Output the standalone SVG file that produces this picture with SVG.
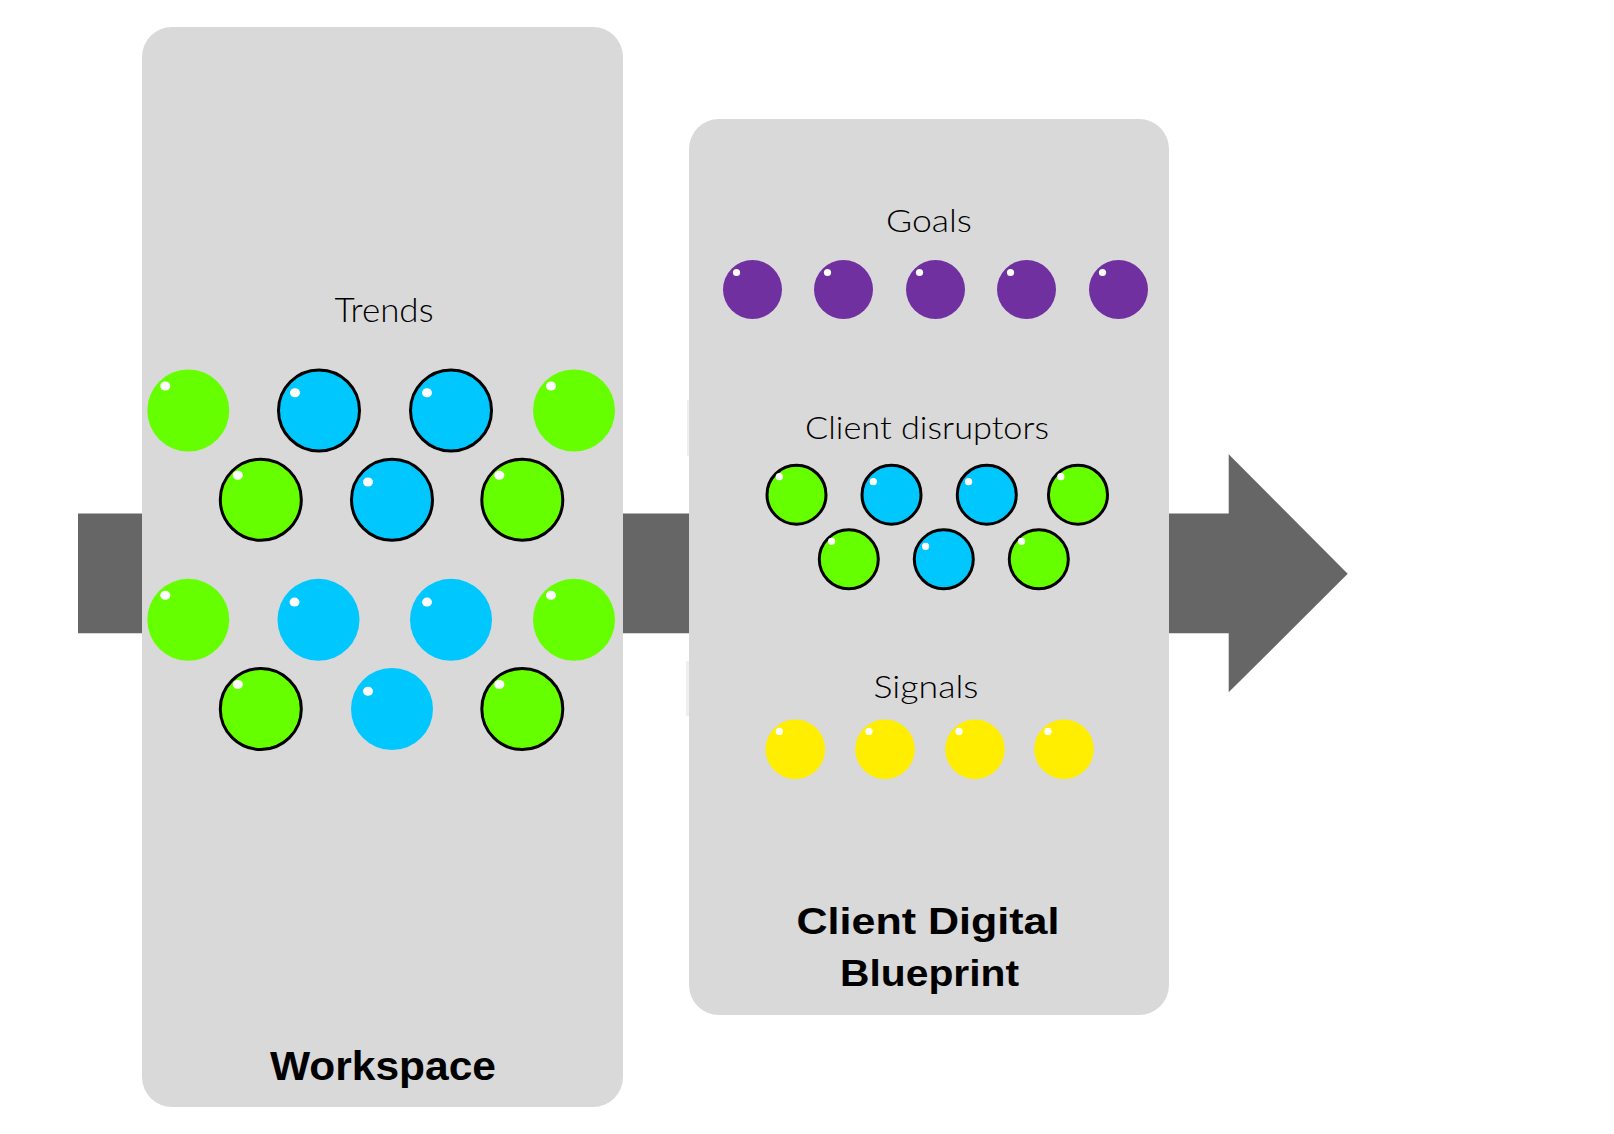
<svg xmlns="http://www.w3.org/2000/svg" width="1614" height="1134" viewBox="0 0 1614 1134">
<style>
.box{fill:#D9D9D9}
.arrow{fill:#666666}
.g{fill:#66FF00}
.b{fill:#00C8FF}
.p{fill:#7030A0}
.y{fill:#FFEE00}
.s{stroke:#000;stroke-width:3}
.h{fill:#FFFFFF}
.lt{font-family:Lato,"Open Sans","Liberation Sans",sans-serif;font-weight:300;fill:#000;text-anchor:middle}
.bt{font-family:"Liberation Sans",Arial,sans-serif;font-weight:bold;fill:#000;text-anchor:middle}
</style>
<rect width="1614" height="1134" fill="#FFFFFF"/>
<g id="connectors">
<polygon class="arrow" points="78,513.5 1228.7,513.5 1228.7,454.3 1347.7,573.7 1228.7,692.3 1228.7,633.3 78,633.3"/>
</g>
<g id="workspace">
<rect class="box" x="142" y="27" width="481" height="1080" rx="30" ry="30"/>
<text class="lt" x="384" y="321.7" font-size="34" textLength="99" lengthAdjust="spacingAndGlyphs">Trends</text>
<text class="bt" x="383" y="1080" font-size="41" textLength="226" lengthAdjust="spacingAndGlyphs">Workspace</text>
</g>
<g id="trends">
<circle class="g" cx="188.3" cy="410.5" r="41"/><ellipse class="h" cx="165.3" cy="386" rx="5" ry="4.5"/>
<circle class="b s" cx="319" cy="410.5" r="40.5"/><ellipse class="h" cx="295" cy="392.8" rx="5" ry="4.5"/>
<circle class="b s" cx="451" cy="410.5" r="40.5"/><ellipse class="h" cx="427" cy="392.8" rx="5" ry="4.5"/>
<circle class="g" cx="574" cy="410.5" r="41"/><ellipse class="h" cx="551" cy="386" rx="5" ry="4.5"/>
<circle class="g s" cx="260.8" cy="499.7" r="40.5"/><ellipse class="h" cx="237.8" cy="475.2" rx="5" ry="4.5"/>
<circle class="b s" cx="392" cy="499.7" r="40.5"/><ellipse class="h" cx="368" cy="482" rx="5" ry="4.5"/>
<circle class="g s" cx="522.3" cy="499.7" r="40.5"/><ellipse class="h" cx="499.3" cy="475.2" rx="5" ry="4.5"/>
<circle class="g" cx="188.3" cy="619.8" r="41"/><ellipse class="h" cx="165.3" cy="595.3" rx="5" ry="4.5"/>
<circle class="b" cx="318.5" cy="619.8" r="41"/><ellipse class="h" cx="294.5" cy="602.1" rx="5" ry="4.5"/>
<circle class="b" cx="451" cy="619.8" r="41"/><ellipse class="h" cx="427" cy="602.1" rx="5" ry="4.5"/>
<circle class="g" cx="574" cy="619.8" r="41"/><ellipse class="h" cx="551" cy="595.3" rx="5" ry="4.5"/>
<circle class="g s" cx="260.8" cy="709" r="40.5"/><ellipse class="h" cx="237.8" cy="684.5" rx="5" ry="4.5"/>
<circle class="b" cx="392" cy="709" r="41"/><ellipse class="h" cx="368" cy="691.3" rx="5" ry="4.5"/>
<circle class="g s" cx="522.3" cy="709" r="40.5"/><ellipse class="h" cx="499.3" cy="684.5" rx="5" ry="4.5"/>
</g>
<g id="blueprint">
<rect class="box" x="689" y="119" width="480" height="896" rx="30" ry="30"/>
<rect x="687" y="400" width="2" height="56" fill="#EFEFEF"/>
<rect x="686" y="661" width="3" height="55" fill="#EFEFEF"/>
<text class="bt" x="928" y="934.3" font-size="37" textLength="263" lengthAdjust="spacingAndGlyphs">Client Digital</text>
<text class="bt" x="929.5" y="986" font-size="37" textLength="179" lengthAdjust="spacingAndGlyphs">Blueprint</text>
</g>
<g id="goals">
<text class="lt" x="929" y="231.7" font-size="32" textLength="86" lengthAdjust="spacingAndGlyphs">Goals</text>
<circle class="p" cx="752.5" cy="289.5" r="29.5"/><circle class="h" cx="736.5" cy="272.5" r="3.6"/>
<circle class="p" cx="843.5" cy="289.5" r="29.5"/><circle class="h" cx="827.5" cy="272.5" r="3.6"/>
<circle class="p" cx="935.5" cy="289.5" r="29.5"/><circle class="h" cx="919.5" cy="272.5" r="3.6"/>
<circle class="p" cx="1026.5" cy="289.5" r="29.5"/><circle class="h" cx="1010.5" cy="272.5" r="3.6"/>
<circle class="p" cx="1118.5" cy="289.5" r="29.5"/><circle class="h" cx="1102.5" cy="272.5" r="3.6"/>
</g>
<g id="client-disruptors">
<text class="lt" x="927" y="439.3" font-size="32" textLength="244" lengthAdjust="spacingAndGlyphs">Client disruptors</text>
<circle class="g s" cx="796.5" cy="494.7" r="29.5"/><circle class="h" cx="779.3" cy="476.7" r="3.6"/>
<circle class="b s" cx="891.5" cy="494.7" r="29.5"/><circle class="h" cx="873.3" cy="481.7" r="3.6"/>
<circle class="b s" cx="986.8" cy="494.7" r="29.5"/><circle class="h" cx="968.6" cy="481.7" r="3.6"/>
<circle class="g s" cx="1078" cy="494.7" r="29.5"/><circle class="h" cx="1060.8" cy="476.7" r="3.6"/>
<circle class="g s" cx="848.8" cy="559.3" r="29.5"/><circle class="h" cx="831.6" cy="541.3" r="3.6"/>
<circle class="b s" cx="943.8" cy="559.3" r="29.5"/><circle class="h" cx="925.6" cy="546.3" r="3.6"/>
<circle class="g s" cx="1038.8" cy="559.3" r="29.5"/><circle class="h" cx="1021.6" cy="541.3" r="3.6"/>
</g>
<g id="signals">
<text class="lt" x="926" y="698.3" font-size="32" textLength="105" lengthAdjust="spacingAndGlyphs">Signals</text>
<circle class="y" cx="795.3" cy="749.2" r="29.8"/><circle class="h" cx="779.3" cy="731.4" r="3.6"/>
<circle class="y" cx="885" cy="749.2" r="29.8"/><circle class="h" cx="869" cy="731.4" r="3.6"/>
<circle class="y" cx="975" cy="749.2" r="29.8"/><circle class="h" cx="959" cy="731.4" r="3.6"/>
<circle class="y" cx="1064" cy="749.2" r="29.8"/><circle class="h" cx="1048" cy="731.4" r="3.6"/>
</g>
</svg>
